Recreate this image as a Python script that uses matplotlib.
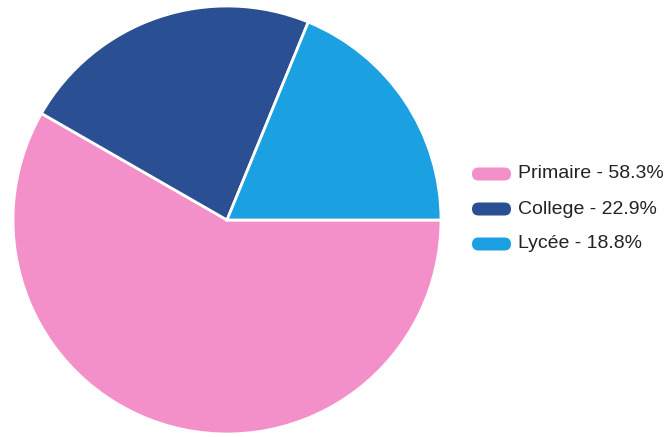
import matplotlib.pyplot as plt
from matplotlib.patches import FancyBboxPatch

#%% Données

categories = ['Primaire', 'College', 'Lycée']
values = [58.3, 22.9, 18.8]
colors = ['#F490C9', '#2A4F92', '#1BA0E2']

#%% Figure

W, H = 666, 437
fig = plt.figure(figsize=(W / 100, H / 100), dpi=100)
plt.rcParams['font.family'] = ['Liberation Sans', 'DejaVu Sans']

cx, cy, r = 227, 220, 214
ax = fig.add_axes([(cx - r) / W, (H - cy - r) / H, 2 * r / W, 2 * r / H])
ax.pie(values, colors=colors, startangle=0, counterclock=False, radius=1,
       wedgeprops=dict(edgecolor='white', linewidth=2))
ax.set_xlim(-1, 1)
ax.set_ylim(-1, 1)
ax.set_aspect('equal')
ax.axis('off')

# Légende (pastilles arrondies)
for i, (cat, val, col) in enumerate(zip(categories, values, colors)):
    yc = 174 + 35 * i
    pill = FancyBboxPatch((472 / W, (H - yc - 6.5) / H), 39 / W, 13 / H,
                          boxstyle='round,pad=0,rounding_size=0.0098',
                          transform=fig.transFigure, facecolor=col,
                          edgecolor='none', mutation_aspect=W / H)
    fig.patches.append(pill)
    fig.text(518 / W, (H - yc) / H, f'{cat} - {val}%', fontsize=14,
             va='center', ha='left', color='#222222')

fig.savefig('out.png', dpi=100)
